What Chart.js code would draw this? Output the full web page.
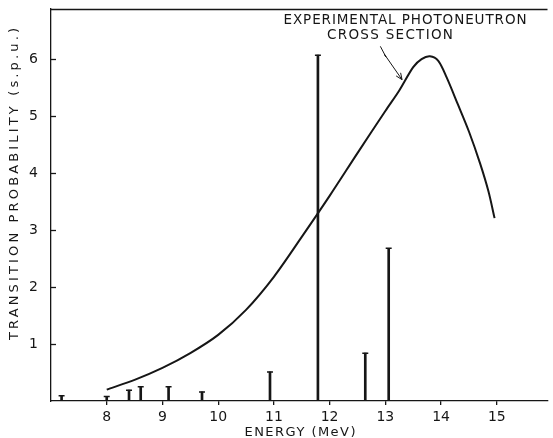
<!DOCTYPE html>
<html>
<head>
<meta charset="utf-8">
<script src="https://cdn.jsdelivr.net/npm/chart.js@4.4.1/dist/chart.umd.min.js"></script>
<style>
  html, body { margin: 0; padding: 0; background: #fff; }
  #wrap { width: 553px; height: 438px; position: relative; }
</style>
</head>
<body>
<div id="wrap"><canvas id="c"></canvas></div>
<script>
// level energies (MeV) and transition strengths (s.p.u.)
const levelEnergy = [7.19, 8.0, 8.4, 8.61, 9.11, 9.71, 10.93, 11.79, 12.64, 13.06];
const levelStrength = [0.09, 0.08, 0.19, 0.25, 0.25, 0.16, 0.51, 6.07, 0.84, 2.68];

// experimental photoneutron cross section (scaled)
const curveEnergy = [8.0, 8.5, 9.0, 9.5, 10.0, 10.5, 11.0, 11.5, 12.0, 12.5, 13.0, 13.25, 13.5, 13.65, 13.8, 13.95, 14.1, 14.3, 14.5, 14.7, 14.85, 14.96];
const curveValue = [0.20, 0.37, 0.58, 0.84, 1.16, 1.60, 2.18, 2.88, 3.60, 4.35, 5.09, 5.45, 5.86, 6.00, 6.05, 5.97, 5.68, 5.21, 4.73, 4.17, 3.68, 3.21];

const xTicks = [8, 9, 10, 11, 12, 13, 14, 15];
const yTicks = [1, 2, 3, 4, 5, 6];

const noteLines = ["EXPERIMENTAL PHOTONEUTRON", "CROSS SECTION"];
// squiggle arrow from note to curve, in data units
const arrowPath = [[12.91, 6.225], [13.01, 6.04], [12.98, 6.09], [13.30, 5.64]];

const ink = "#161616";
const fontFam = "'DejaVu Sans', sans-serif";

// draw text stretched by letter spacing to a given width
function spacedText(ctx, text, cx, cy, width) {
  ctx.letterSpacing = "0px";
  const w = ctx.measureText(text).width;
  const sp = (width - w) / (text.length - 1);
  ctx.letterSpacing = sp.toFixed(2) + "px";
  ctx.fillText(text, cx + sp / 2, cy);
  ctx.letterSpacing = "0px";
}

const extras = {
  id: "extras",
  afterDraw(chart) {
    const { ctx, chartArea: a, scales: { x, y } } = chart;
    ctx.save();
    ctx.strokeStyle = ink;
    ctx.fillStyle = ink;
    ctx.lineWidth = 1.3;

    // top frame line
    ctx.beginPath();
    ctx.moveTo(a.left, a.top + 0.5);
    ctx.lineTo(a.right, a.top + 0.5);
    ctx.stroke();

    // inward y ticks
    yTicks.forEach((v) => {
      const py = Math.round(y.getPixelForValue(v)) + 0.5;
      ctx.beginPath();
      ctx.moveTo(a.left, py);
      ctx.lineTo(a.left + 5, py);
      ctx.stroke();
    });

    // axis titles
    ctx.font = "13px " + fontFam;
    ctx.textAlign = "center";
    ctx.textBaseline = "middle";
    spacedText(ctx, "ENERGY (MeV)", 300, 433, 111);

    ctx.save();
    ctx.translate(15, 184);
    ctx.rotate(-Math.PI / 2);
    spacedText(ctx, "TRANSITION PROBABILITY (s.p.u.)", 0, 0, 312);
    ctx.restore();

    // note text
    ctx.font = "13.5px " + fontFam;
    spacedText(ctx, noteLines[0], 405, 20.5, 243);
    spacedText(ctx, noteLines[1], 390, 35, 126);

    // arrow
    ctx.lineWidth = 1;
    const pts = arrowPath.map(([e, v]) => [x.getPixelForValue(e), y.getPixelForValue(v)]);
    ctx.beginPath();
    pts.forEach(([px, py], i) => (i ? ctx.lineTo(px, py) : ctx.moveTo(px, py)));
    ctx.stroke();
    const [tx, ty] = pts[pts.length - 1];
    const [sx, sy] = pts[pts.length - 2];
    const ang = Math.atan2(ty - sy, tx - sx);
    ctx.beginPath();
    ctx.moveTo(tx - 7 * Math.cos(ang - 0.4), ty - 7 * Math.sin(ang - 0.4));
    ctx.lineTo(tx, ty);
    ctx.lineTo(tx - 7 * Math.cos(ang + 0.4), ty - 7 * Math.sin(ang + 0.4));
    ctx.stroke();
    ctx.restore();
  }
};

new Chart(document.getElementById("c"), {
  type: "bar",
  data: {
    datasets: [
      {
        type: "line",
        data: curveEnergy.map((e, i) => ({ x: e, y: curveValue[i] })),
        borderColor: ink,
        borderWidth: 2,
        pointRadius: 0,
        tension: 0.3,
        fill: false
      },
      {
        type: "bar",
        data: levelEnergy.map((e, i) => ({ x: e, y: levelStrength[i] })),
        backgroundColor: ink,
        barThickness: 2,
        borderWidth: 0
      },
      {
        type: "scatter",
        data: levelEnergy.map((e, i) => ({ x: e, y: levelStrength[i] })),
        pointStyle: "line",
        pointRadius: 3,
        borderColor: ink,
        borderWidth: 1.5
      }
    ]
  },
  options: {
    responsive: true,
    maintainAspectRatio: false,
    animation: false,
    events: [],
    layout: { padding: { top: 9, right: 2, left: 0, bottom: 0 } },
    plugins: { legend: { display: false }, tooltip: { enabled: false } },
    scales: {
      x: {
        type: "linear",
        min: 7,
        max: 15.91,
        offset: false,
        afterBuildTicks: (s) => { s.ticks = xTicks.map((v) => ({ value: v })); },
        afterFit: (s) => { s.height = 37; s.paddingLeft = 0; s.paddingRight = 0; },
        border: { display: true, color: ink, width: 1.3 },
        grid: { display: true, drawOnChartArea: false, offset: false, tickLength: 4, color: ink, lineWidth: 1.3 },
        ticks: { color: ink, padding: 4, maxRotation: 0, font: { family: fontFam, size: 14 } }
      },
      y: {
        min: 0,
        max: 6.88,
        afterBuildTicks: (s) => { s.ticks = yTicks.map((v) => ({ value: v })); },
        afterFit: (s) => { s.width = 51; s.paddingTop = 0; s.paddingBottom = 0; },
        border: { display: true, color: ink, width: 1.3 },
        grid: { display: false, drawTicks: false },
        ticks: { color: ink, padding: 13, font: { family: fontFam, size: 14 } }
      }
    }
  },
  plugins: [extras]
});
</script>
</body>
</html>
